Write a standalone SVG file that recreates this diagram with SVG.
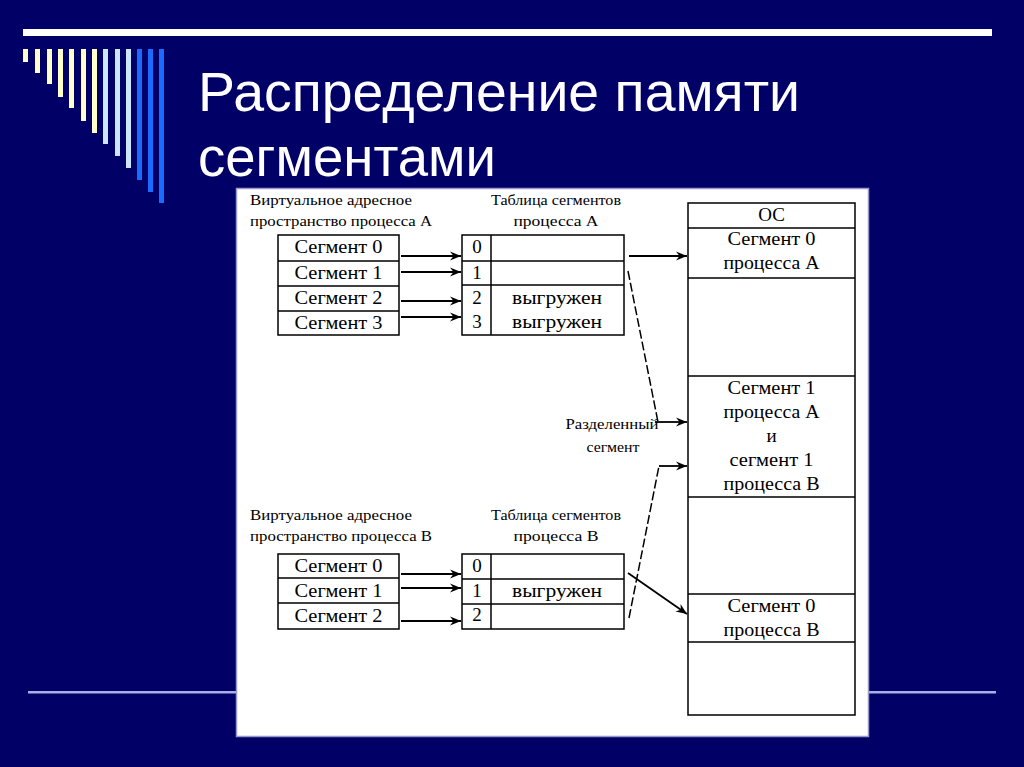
<svg xmlns="http://www.w3.org/2000/svg" width="1024" height="767" viewBox="0 0 1024 767">
<defs>
<marker id="ah" markerUnits="userSpaceOnUse" markerWidth="12" markerHeight="10" refX="11" refY="5" orient="auto">
<path d="M0,0.5 L11,5 L0,9.5 L3.5,5 z" fill="#000"/>
</marker>
<style>
.bx{fill:#fff;stroke:#000;stroke-width:1.5}
.ln{stroke:#000;stroke-width:1.5;fill:none}
.t{font-family:"Liberation Serif",serif;font-size:19px;fill:#000;text-anchor:middle}
.s{font-family:"Liberation Serif",serif;font-size:14px;fill:#000}
.c{fill:none;stroke:#000;stroke-width:1.8;marker-end:url(#ah)}
.d{fill:none;stroke:#000;stroke-width:1.5;stroke-dasharray:9 3}
.title{font-family:"Liberation Sans",Arial,sans-serif;font-size:55px;fill:#fff}
</style>
</defs>
<rect width="1024" height="767" fill="#000066"/>
<rect x="23" y="29" width="969" height="7" fill="#fff"/>
<g id="bars">
<rect x="23" y="49" width="5" height="13" fill="#ffffcc"/>
<rect x="35" y="49" width="5" height="24" fill="#ffffcc"/>
<rect x="47" y="49" width="5" height="35" fill="#ffffcc"/>
<rect x="58" y="49" width="5" height="48" fill="#ffffcc"/>
<rect x="69" y="49" width="5" height="59" fill="#ffffcc"/>
<rect x="81" y="49" width="5" height="72" fill="#ffffcc"/>
<rect x="92" y="49" width="5" height="84" fill="#ffffcc"/>
<rect x="103" y="49" width="5" height="95" fill="#cce6ff"/>
<rect x="115" y="49" width="5" height="107" fill="#cce6ff"/>
<rect x="126" y="49" width="5" height="119" fill="#cce6ff"/>
<rect x="137" y="49" width="5" height="131" fill="#1a6cff"/>
<rect x="148" y="49" width="5" height="143" fill="#1a6cff"/>
<rect x="159" y="49" width="5" height="154" fill="#1a6cff"/>
</g>
<text class="title" x="198" y="111" textLength="602" lengthAdjust="spacingAndGlyphs">Распределение памяти</text>
<text class="title" x="198" y="176" textLength="298" lengthAdjust="spacingAndGlyphs">сегментами</text>
<rect x="28" y="691" width="968" height="2.5" fill="#a8b0e8"/>
<rect x="236.5" y="188.5" width="632" height="548" fill="#fff" stroke="#9999cc" stroke-width="1.5"/>

<g id="labelsA">
<text class="s" x="250" y="205" textLength="162" lengthAdjust="spacingAndGlyphs">Виртуальное адресное</text>
<text class="s" x="250" y="226" textLength="182" lengthAdjust="spacingAndGlyphs">пространство процесса А</text>
<text class="s" x="556" y="205" text-anchor="middle" textLength="130" lengthAdjust="spacingAndGlyphs">Таблица сегментов</text>
<text class="s" x="556" y="226" text-anchor="middle" textLength="85" lengthAdjust="spacingAndGlyphs">процесса А</text>
</g>

<g id="vasA">
<rect class="bx" x="278" y="235" width="121" height="100"/>
<path class="ln" d="M278,261 H399 M278,286 H399 M278,311 H399"/>
<text class="t" x="338.5" y="253" textLength="88" lengthAdjust="spacingAndGlyphs">Сегмент 0</text>
<text class="t" x="338.5" y="279" textLength="88" lengthAdjust="spacingAndGlyphs">Сегмент 1</text>
<text class="t" x="338.5" y="304" textLength="88" lengthAdjust="spacingAndGlyphs">Сегмент 2</text>
<text class="t" x="338.5" y="329" textLength="88" lengthAdjust="spacingAndGlyphs">Сегмент 3</text>
</g>

<g id="tableA">
<rect class="bx" x="462" y="235" width="162" height="100"/>
<path class="ln" d="M491,235 V335 M462,261 H624 M462,285 H624"/>
<text class="t" x="477" y="253">0</text>
<text class="t" x="477" y="279">1</text>
<text class="t" x="477" y="304">2</text>
<text class="t" x="477" y="328">3</text>
<text class="t" x="557" y="304" textLength="90" lengthAdjust="spacingAndGlyphs">выгружен</text>
<text class="t" x="557" y="328" textLength="90" lengthAdjust="spacingAndGlyphs">выгружен</text>
</g>

<g id="labelsB">
<text class="s" x="250" y="520" textLength="162" lengthAdjust="spacingAndGlyphs">Виртуальное адресное</text>
<text class="s" x="250" y="541" textLength="182" lengthAdjust="spacingAndGlyphs">пространство процесса В</text>
<text class="s" x="556" y="520" text-anchor="middle" textLength="130" lengthAdjust="spacingAndGlyphs">Таблица сегментов</text>
<text class="s" x="556" y="541" text-anchor="middle" textLength="85" lengthAdjust="spacingAndGlyphs">процесса В</text>
</g>

<g id="vasB">
<rect class="bx" x="278" y="554" width="121" height="75"/>
<path class="ln" d="M278,578 H399 M278,603 H399"/>
<text class="t" x="338.5" y="572" textLength="88" lengthAdjust="spacingAndGlyphs">Сегмент 0</text>
<text class="t" x="338.5" y="597" textLength="88" lengthAdjust="spacingAndGlyphs">Сегмент 1</text>
<text class="t" x="338.5" y="622" textLength="88" lengthAdjust="spacingAndGlyphs">Сегмент 2</text>
</g>

<g id="tableB">
<rect class="bx" x="462" y="554" width="162" height="75"/>
<path class="ln" d="M491,554 V629 M462,579 H624 M462,604 H624"/>
<text class="t" x="477" y="572">0</text>
<text class="t" x="477" y="597">1</text>
<text class="t" x="477" y="621">2</text>
<text class="t" x="557" y="597" textLength="90" lengthAdjust="spacingAndGlyphs">выгружен</text>
</g>

<g id="memory">
<rect class="bx" x="688" y="203" width="167" height="512"/>
<path class="ln" d="M688,228 H855 M688,278 H855 M688,376 H855 M688,497 H855 M688,594 H855 M688,642 H855"/>
<text class="t" x="771.5" y="221">ОС</text>
<text class="t" x="771.5" y="245" textLength="88" lengthAdjust="spacingAndGlyphs">Сегмент 0</text>
<text class="t" x="771.5" y="269" textLength="96" lengthAdjust="spacingAndGlyphs">процесса А</text>
<text class="t" x="771.5" y="394" textLength="88" lengthAdjust="spacingAndGlyphs">Сегмент 1</text>
<text class="t" x="771.5" y="418" textLength="96" lengthAdjust="spacingAndGlyphs">процесса А</text>
<text class="t" x="771.5" y="442">и</text>
<text class="t" x="771.5" y="466" textLength="84" lengthAdjust="spacingAndGlyphs">сегмент 1</text>
<text class="t" x="771.5" y="490" textLength="96" lengthAdjust="spacingAndGlyphs">процесса В</text>
<text class="t" x="771.5" y="612" textLength="88" lengthAdjust="spacingAndGlyphs">Сегмент 0</text>
<text class="t" x="771.5" y="636" textLength="96" lengthAdjust="spacingAndGlyphs">процесса В</text>
</g>

<g id="shared-label">
<text class="s" x="612" y="429" text-anchor="middle" font-size="13" textLength="93" lengthAdjust="spacingAndGlyphs">Разделенный</text>
<text class="s" x="613" y="452" text-anchor="middle" font-size="13" textLength="53" lengthAdjust="spacingAndGlyphs">сегмент</text>
</g>

<g id="connectors">
<path class="c" d="M401,256 H461"/>
<path class="c" d="M401,272 H461"/>
<path class="c" d="M401,301 H461"/>
<path class="c" d="M401,317 H461"/>
<path class="c" d="M629,256 H687"/>
<path class="d" d="M628,271 L658,422"/>
<path class="c" d="M655,422 H687"/>
<path class="c" d="M401,574 H461"/>
<path class="c" d="M401,588 H461"/>
<path class="c" d="M401,621 H461"/>
<path class="d" d="M629,618 L659,466"/>
<path class="c" d="M659,466 H687"/>
<path class="c" d="M628,573 L687,614" stroke-width="1.2"/>
</g>
</svg>
